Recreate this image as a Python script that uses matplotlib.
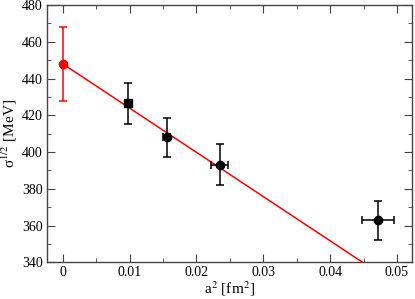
import matplotlib
matplotlib.use("Agg")
import matplotlib.pyplot as plt
from matplotlib.ticker import MultipleLocator

plt.rcParams['font.family'] = ['Liberation Serif', 'DejaVu Serif']
plt.rcParams['mathtext.fontset'] = 'stix'

# continuum extrapolation (red)
x_cont = [0.0]
y_cont = [448.0]
yerr_cont = [20.0]

# lattice data: square point
x_sq = [0.0097]
y_sq = [426.5]
yerr_sq = [11.0]

# lattice data: circles
x_circ = [0.01557, 0.02348, 0.04716]
y_circ = [408.0, 393.1, 362.8]
xerr_circ = [0.0005, 0.00124, 0.00236]
yerr_circ = [10.5, 11.0, 10.7]

# linear fit
fit_a = 448.0
fit_b = -2407.0
fit_x = [0.0, 0.05]

fig = plt.figure(figsize=(4.15, 2.99), dpi=100)
ax = fig.add_axes([0.1125, 0.1227, 0.881, 0.8606])

ax.plot(fit_x, [fit_a + fit_b * x for x in fit_x], color='red', lw=1.1, zorder=2)
ax.errorbar(x_cont, y_cont, yerr=yerr_cont, fmt='o', color='red', ms=6,
            elinewidth=1.1, capsize=3, capthick=1.1, zorder=3)
ax.errorbar(x_sq, y_sq, yerr=yerr_sq, fmt='s', color='black', ms=5.5,
            elinewidth=1.1, capsize=3, capthick=1.1, zorder=3)
ax.errorbar(x_circ, y_circ, xerr=xerr_circ, yerr=yerr_circ, fmt='o', color='black', ms=6,
            elinewidth=1.1, capsize=3, capthick=1.1, zorder=3)

ax.set_xlim(-0.0024, 0.0523)
ax.set_ylim(340, 480)
ax.xaxis.set_major_locator(MultipleLocator(0.01))
ax.xaxis.set_minor_locator(MultipleLocator(0.005))
ax.yaxis.set_major_locator(MultipleLocator(20))
ax.yaxis.set_minor_locator(MultipleLocator(10))
ax.set_xticks([0, 0.01, 0.02, 0.03, 0.04, 0.05])
ax.set_xticklabels(['0', '0.01', '0.02', '0.03', '0.04', '0.05'])
ax.tick_params(which='both', direction='in', top=True, right=True, labelsize=10,
               color='#444444')
ax.tick_params(which='major', length=6, pad=3)
ax.tick_params(which='minor', length=3)
for s in ax.spines.values():
    s.set_color('#444444')
    s.set_linewidth(1.0)

ax.set_xlabel(r'a$^{2}$ [fm$^{2}$]', fontsize=11, labelpad=0)
ax.set_ylabel(r'σ$^{1/2}$ [MeV]', fontsize=11, labelpad=2)

fig.savefig('out.png', dpi=100)
